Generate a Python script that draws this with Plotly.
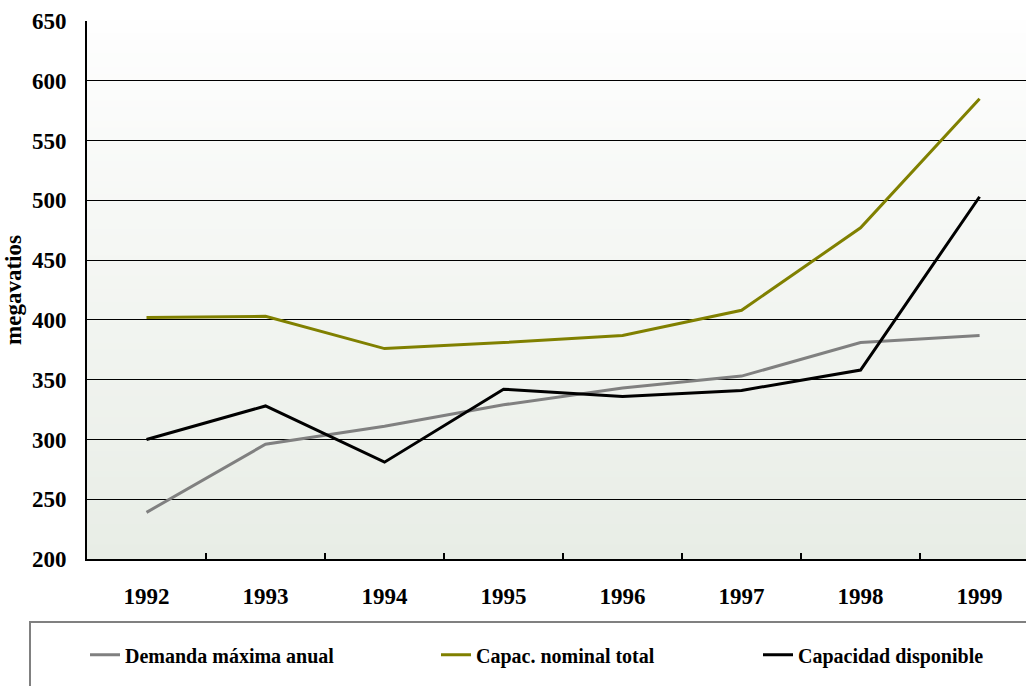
import plotly.graph_objects as go

# Annual series, in megawatts
years = ["1992", "1993", "1994", "1995", "1996", "1997", "1998", "1999"]
demanda_maxima = [239, 296, 311, 329, 343, 353, 381, 387]
capac_nominal = [402, 403, 376, 381, 387, 408, 477, 585]
capac_disponible = [300, 328, 281, 342, 336, 341, 358, 503]

series = [
    ("Demanda máxima anual", demanda_maxima, "#808080", "legend"),
    ("Capac. nominal total", capac_nominal, "#808000", "legend2"),
    ("Capacidad disponible", capac_disponible, "#000000", "legend3"),
]

FONT = "Liberation Serif"

fig = go.Figure()
for name, values, color, leg in series:
    fig.add_trace(go.Scatter(
        x=years, y=values, name=name, mode="lines",
        line=dict(color=color, width=3), legend=leg,
    ))

# Vertical gradient behind the plot area (white at top, pale green-grey at bottom)
top_rgb = (254, 254, 254)
bot_rgb = (232, 237, 230)
n_bands = 80
shapes = []
for i in range(n_bands):
    t = (i + 0.5) / n_bands
    c = tuple(round(top_rgb[k] + (bot_rgb[k] - top_rgb[k]) * t) for k in range(3))
    shapes.append(dict(
        type="rect", xref="x domain", yref="y domain",
        x0=0, x1=1, y0=1 - (i + 1) / n_bands, y1=1 - i / n_bands + 0.002,
        fillcolor="rgb(%d,%d,%d)" % c, line=dict(width=0), layer="below",
    ))

# Frame around the legend row
shapes.append(dict(
    type="rect", xref="paper", yref="paper",
    x0=-0.0607, x1=1.05, y0=-0.35, y1=-0.117,
    line=dict(color="#808080", width=2), fillcolor="rgba(0,0,0,0)",
))

legend_font = dict(family=FONT, size=20, color="black", weight="bold")
legend_common = dict(
    orientation="h", xref="paper", yref="paper", yanchor="middle",
    y=-0.178, bgcolor="rgba(0,0,0,0)", borderwidth=0, font=legend_font,
)

fig.update_layout(
    width=1026, height=686, autosize=False,
    margin=dict(l=87, r=0, t=21, b=127),
    paper_bgcolor="white", plot_bgcolor="white",
    shapes=shapes,
    showlegend=True,
    legend=dict(x=(90 - 87 - 5) / 939, **legend_common),
    legend2=dict(x=(441 - 87 - 5) / 939, **legend_common),
    legend3=dict(x=(763 - 87 - 5) / 939, **legend_common),
    xaxis=dict(
        type="category", range=[-0.5, 7.39],
        tickson="boundaries", ticks="inside", ticklen=6, tickwidth=2,
        tickcolor="black", showgrid=False,
        showline=True, linecolor="black", linewidth=2,
        tickfont=dict(family=FONT, size=23, color="black", weight="bold"),
        ticklabelstandoff=15,
    ),
    yaxis=dict(
        range=[200, 650], dtick=50, tick0=200,
        showgrid=True, gridcolor="black", gridwidth=1,
        showline=True, linecolor="black", linewidth=2,
        zeroline=False, ticks="",
        tickfont=dict(family=FONT, size=23, color="black", weight="bold"),
        ticklabelstandoff=14,
        title=dict(text="megavatios", standoff=4,
                   font=dict(family=FONT, size=23, color="black", weight="bold")),
    ),
)

fig.write_html("out.html")
